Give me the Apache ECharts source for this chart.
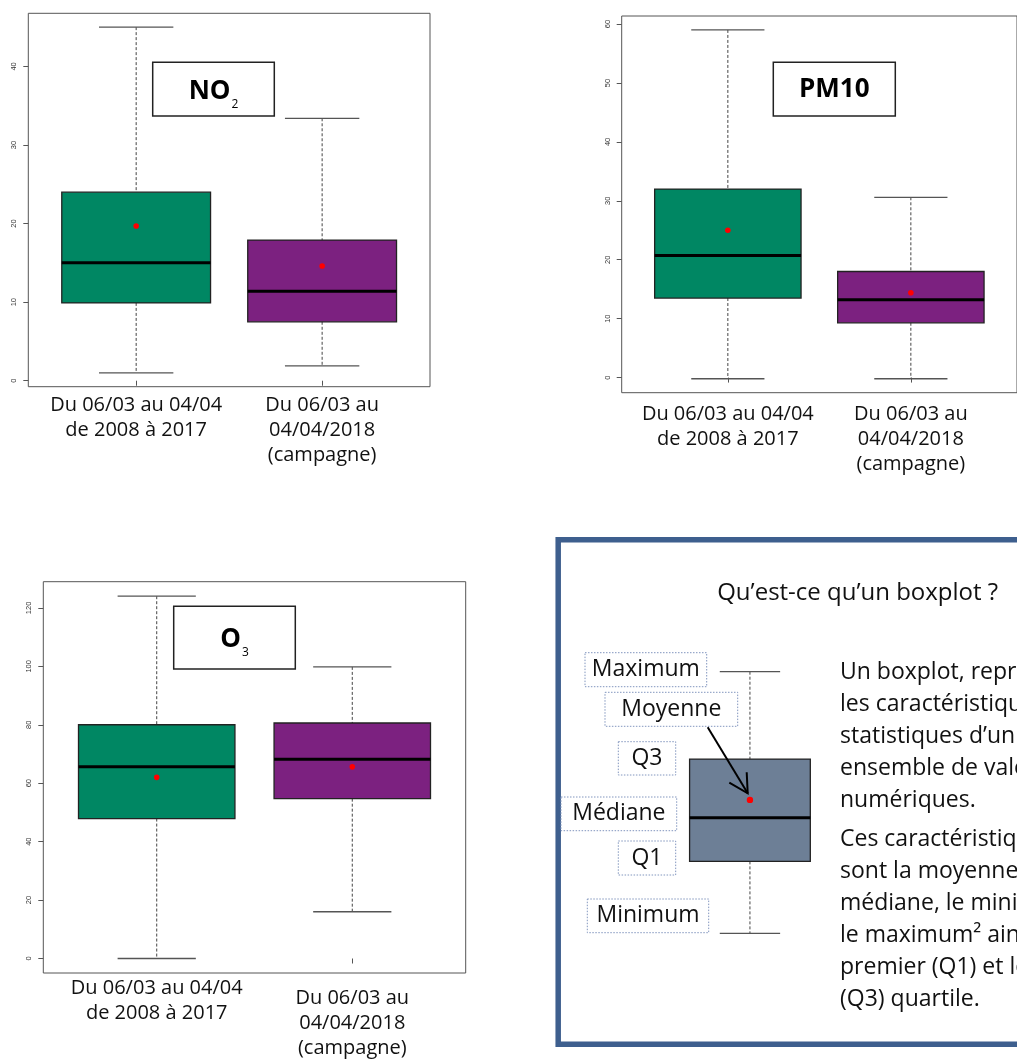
<!DOCTYPE html>
<html lang="fr">
<head>
<meta charset="utf-8">
<title>Boxplots NO2 / PM10 / O3</title>
<script src="https://cdn.jsdelivr.net/npm/echarts@6/dist/echarts.min.js"></script>
<style>
  html, body { margin: 0; padding: 0; background: #fff; }
  #chart { width: 1017px; height: 1061px; }
</style>
</head>
<body>
<div id="chart"></div>
<script>
// périodes comparées
const categories = ['Du 06/03 au 04/04\nde 2008 à 2017', 'Du 06/03 au\n04/04/2018\n(campagne)'];
const catPositions = [1, 2];

// chaque ligne : min, Q1, médiane, Q3, max
const no2Stats = [[1.0, 9.9, 15.0, 24.0, 45.0], [1.9, 7.5, 11.4, 17.9, 33.4]];
const no2Means = [19.7, 14.6];
const no2Ticks = [0, 10, 20, 30, 40];

const pm10Stats = [[-0.2, 13.5, 20.7, 32.0, 59.0], [-0.2, 9.3, 13.2, 18.0, 30.6]];
const pm10Means = [25.0, 14.4];
const pm10Ticks = [0, 10, 20, 30, 40, 50, 60];

const o3Stats = [[0.0, 47.9, 65.6, 80.0, 124.0], [16.0, 54.7, 68.2, 80.6, 99.8]];
const o3Means = [62.0, 65.6];
const o3Ticks = [0, 20, 40, 60, 80, 100, 120];

// boxplot schématique de l'encadré
const demoStats = [[0, 27.5, 44.2, 66.6, 100]];
const demoMeans = [51];
const demoLabels = ['Maximum', 'Moyenne', 'Q3', 'Médiane', 'Q1', 'Minimum'];

const GREEN = '#008763';
const PURPLE = '#7C2180';
const SLATE = '#6D7F96';
const FONT = "'Open Sans', 'DejaVu Sans', sans-serif";

const toRows = (stats, means) => stats.map((s, i) => [catPositions[i], ...s, means[i]]);

const boxRenderer = (fills, meanR) => (params, api) => {
  const x = api.value(0);
  const pMin = api.coord([x, api.value(1)]);
  const pQ1 = api.coord([x, api.value(2)]);
  const pMed = api.coord([x, api.value(3)]);
  const pQ3 = api.coord([x, api.value(4)]);
  const pMax = api.coord([x, api.value(5)]);
  const pMean = api.coord([x, api.value(6)]);
  const half = api.size([0.4, 0])[0];
  const cap = api.size([0.2, 0])[0];
  const cx = pMed[0];
  const dash = { stroke: '#444', lineWidth: 1, lineDash: [3, 2] };
  const capStyle = { stroke: '#555', lineWidth: 1.3 };
  return {
    type: 'group',
    children: [
      { type: 'line', shape: { x1: cx, y1: pMax[1], x2: cx, y2: pQ3[1] }, style: dash },
      { type: 'line', shape: { x1: cx, y1: pQ1[1], x2: cx, y2: pMin[1] }, style: dash },
      { type: 'line', shape: { x1: cx - cap, y1: pMax[1], x2: cx + cap, y2: pMax[1] }, style: capStyle },
      { type: 'line', shape: { x1: cx - cap, y1: pMin[1], x2: cx + cap, y2: pMin[1] }, style: capStyle },
      { type: 'rect', shape: { x: cx - half, y: pQ3[1], width: half * 2, height: pQ1[1] - pQ3[1] },
        style: { fill: fills[params.dataIndex], stroke: '#222', lineWidth: 1.3 } },
      { type: 'line', shape: { x1: cx - half, y1: pMed[1], x2: cx + half, y2: pMed[1] },
        style: { stroke: '#000', lineWidth: 3 } },
      { type: 'circle', shape: { cx: pMean[0], cy: pMean[1], r: meanR }, style: { fill: '#ff0000' } }
    ]
  };
};

const yAxisFor = (gridIndex, ticks, stats, margin) => {
  const all = stats.flat();
  const lo = Math.min(...all);
  const hi = Math.max(...all);
  const pad = (hi - lo) * 0.04;
  return {
    type: 'value', gridIndex, min: lo - pad, max: hi + pad,
    axisLine: { show: false },
    axisTick: { show: true, length: 5, customValues: ticks, lineStyle: { color: '#555' } },
    axisLabel: { customValues: ticks, rotate: 90, fontSize: 7.5, color: '#333', margin,
      fontFamily: "'Liberation Sans', sans-serif" },
    splitLine: { show: false }
  };
};

const xAxisFor = (gridIndex, margin, tickValues, formatter, rich) => ({
  type: 'value', gridIndex, min: 0.42, max: 2.58,
  axisLine: { show: false },
  axisTick: { show: true, length: 5, customValues: tickValues, lineStyle: { color: '#555' } },
  axisLabel: { customValues: catPositions, margin, fontSize: 20, lineHeight: 25, color: '#111',
    fontFamily: FONT, formatter: formatter || (v => categories[v - 1]), rich: rich || {} },
  splitLine: { show: false }
});

const frame = { show: true, borderColor: '#555', borderWidth: 1, backgroundColor: 'transparent' };

const chart = echarts.init(document.getElementById('chart'), null, { renderer: 'canvas' });

const titleBox = (x, y, w, h, text, rich, tx, ty) => [
  { type: 'rect', shape: { x, y, width: w, height: h }, style: { fill: '#fff', stroke: '#222', lineWidth: 1.5 }, z: 10 },
  { type: 'text', x: tx, y: ty, z: 11, style: { text, rich, fontFamily: FONT, align: 'center', verticalAlign: 'middle' } }
];

const subRich = {
  b: { fontSize: 26, fontWeight: 'bold', lineHeight: 26, verticalAlign: 'top', fontFamily: FONT, fill: '#000' },
  s: { fontSize: 12, lineHeight: 12, padding: [20, 0, 0, 1], verticalAlign: 'top', fontFamily: FONT, fill: '#000' }
};

// boîtes des libellés de l'encadré
const demoLabelBoxes = [
  [585, 652.7, 121.7, 34],
  [605, 692.3, 132.7, 34],
  [618.3, 741.7, 57.4, 33.3],
  [561, 797, 115.7, 33.7],
  [618.3, 841, 57.4, 34],
  [587.3, 899, 121.4, 33.7]
];

const demoGraphics = [];
demoLabelBoxes.forEach((b, i) => {
  demoGraphics.push({ type: 'rect', shape: { x: b[0], y: b[1], width: b[2], height: b[3] },
    style: { fill: null, stroke: '#8296BE', lineWidth: 1, lineDash: [1.5, 1.5] } });
  demoGraphics.push({ type: 'text', x: b[0] + b[2] / 2, y: b[1] + b[3] / 2,
    style: { text: demoLabels[i], fontSize: 23, fontFamily: FONT, fill: '#111', align: 'center', verticalAlign: 'middle' } });
});

const option = {
  backgroundColor: '#fff',
  animation: false,
  grid: [
    { left: 28.3, top: 13.3, width: 401.7, height: 373.4, ...frame },
    { left: 621.7, top: 16, width: 405.4, height: 376.7, ...frame },
    { left: 43.3, top: 581.7, width: 422.4, height: 393.3, ...frame },
    { left: 674.5, top: 671.7, width: 150.9, height: 261.6, show: false }
  ],
  xAxis: [
    xAxisFor(0, 6, catPositions),
    xAxisFor(1, 9, catPositions),
    xAxisFor(2, 3, [2], v => (v === 2 ? '{gap| }\n' : '') + categories[v - 1], { gap: { fontSize: 1, lineHeight: 10 } }),
    { type: 'value', gridIndex: 3, min: 0.5, max: 1.5, show: false }
  ],
  yAxis: [
    yAxisFor(0, no2Ticks, no2Stats, 10),
    yAxisFor(1, pm10Ticks, pm10Stats, 10),
    yAxisFor(2, o3Ticks, o3Stats, 10),
    { type: 'value', gridIndex: 3, min: 0, max: 100, show: false }
  ],
  series: [
    { type: 'custom', xAxisIndex: 0, yAxisIndex: 0, data: toRows(no2Stats, no2Means),
      renderItem: boxRenderer([GREEN, PURPLE], 2.8), encode: { x: 0, y: [1, 2, 3, 4, 5] }, clip: false, silent: true },
    { type: 'custom', xAxisIndex: 1, yAxisIndex: 1, data: toRows(pm10Stats, pm10Means),
      renderItem: boxRenderer([GREEN, PURPLE], 2.8), encode: { x: 0, y: [1, 2, 3, 4, 5] }, clip: false, silent: true },
    { type: 'custom', xAxisIndex: 2, yAxisIndex: 2, data: toRows(o3Stats, o3Means),
      renderItem: boxRenderer([GREEN, PURPLE], 2.8), encode: { x: 0, y: [1, 2, 3, 4, 5] }, clip: false, silent: true },
    { type: 'custom', xAxisIndex: 3, yAxisIndex: 3, data: demoStats.map((s, i) => [1, ...s, demoMeans[i]]),
      renderItem: boxRenderer([SLATE], 3.2), encode: { x: 0, y: [1, 2, 3, 4, 5] }, clip: false, silent: true }
  ],
  graphic: [
    ...titleBox(152.7, 62.3, 121.6, 53.7, '{b|NO}{s|2}', subRich, 213.5, 91.5),
    ...titleBox(773.3, 62.3, 122, 53.7, 'PM10', null, 834.3, 90),
    ...titleBox(173.7, 606.3, 121.6, 62.7, '{b|O}{s|3}', subRich, 234.5, 640),
    // encadré explicatif
    { type: 'rect', shape: { x: 558.2, y: 539.7, width: 520, height: 504.5 },
      style: { fill: null, stroke: '#3E5F8E', lineWidth: 5.5 } },
    { type: 'text', x: 857.7, y: 593.3,
      style: { text: 'Qu’est-ce qu’un boxplot ?', fontSize: 24, fontFamily: FONT, fill: '#111', align: 'center', verticalAlign: 'middle' } },
    ...demoGraphics,
    { type: 'polyline', shape: { points: [[707.7, 727.3], [747.7, 793.3]] }, style: { stroke: '#000', lineWidth: 2 }, z: 20 },
    { type: 'polyline', shape: { points: [[729.3, 782.7], [747.7, 793.3], [746.7, 772.3]] }, style: { stroke: '#000', lineWidth: 2, fill: null }, z: 20 },
    { type: 'text', x: 840, y: 656.3,
      style: { text: 'Un boxplot, représente graphiquement\nles caractéristiques\nstatistiques d’un\nensemble de valeurs\nnumériques.',
        fontSize: 23, lineHeight: 32.1, fontFamily: FONT, fill: '#111', align: 'left', verticalAlign: 'top' } },
    { type: 'text', x: 840, y: 824,
      style: { text: 'Ces caractéristiques\nsont la moyenne, la\nmédiane, le minimum,\nle maximum² ainsi que le\npremier (Q1) et le troisième\n(Q3) quartile.',
        fontSize: 23, lineHeight: 31.9, fontFamily: FONT, fill: '#111', align: 'left', verticalAlign: 'top' } }
  ]
};

// texte du titre PM10
option.graphic[3].style.fontSize = 26;
option.graphic[3].style.fontWeight = 'bold';
option.graphic[3].style.fill = '#000';

chart.setOption(option);

window.addEventListener('resize', () => chart.resize());
</script>
</body>
</html>
